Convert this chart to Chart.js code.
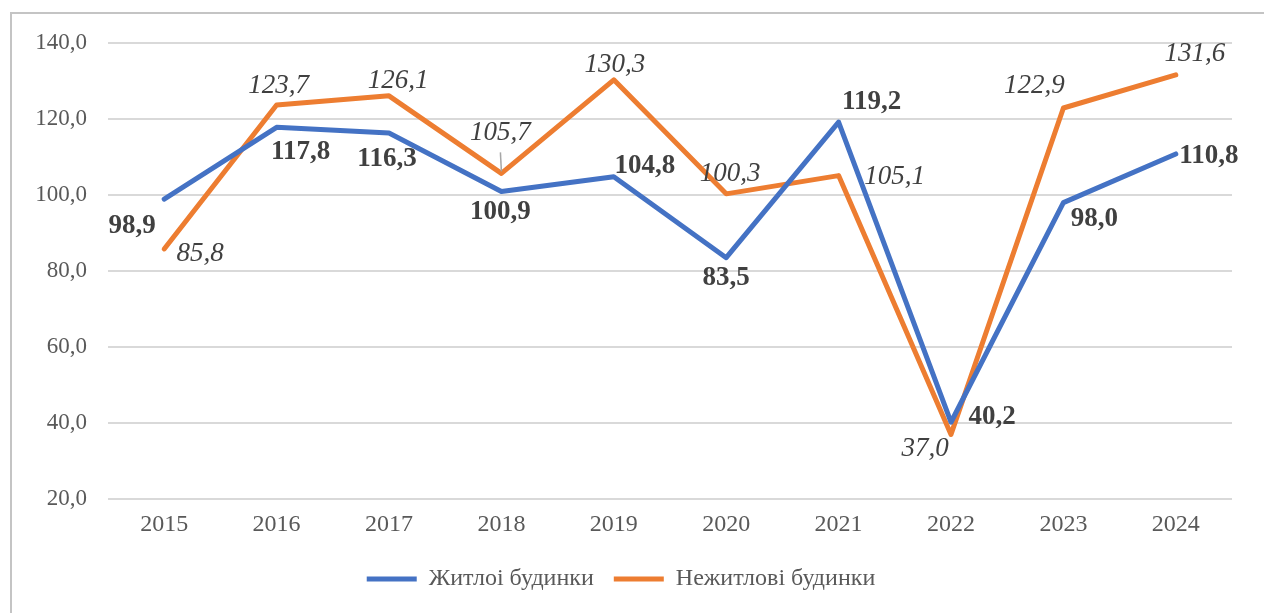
<!DOCTYPE html>
<html>
<head>
<meta charset="utf-8">
<script src="https://cdn.jsdelivr.net/npm/chart.js@4"></script>
<style>
  html, body { margin: 0; padding: 0; background: #fff; overflow: hidden; }
  #frame { position: absolute; left: 10px; top: 12px; width: 1300px; height: 700px;
           border: 2px solid #c4c4c4; box-sizing: border-box; }
  #wrap { position: absolute; left: 0; top: 0; width: 1264px; height: 613px; }
</style>
</head>
<body>
<div id="frame"></div>
<div id="wrap"><canvas id="chart"></canvas></div>
<script>
const years = ['2015', '2016', '2017', '2018', '2019', '2020', '2021', '2022', '2023', '2024'];
const residential = [98.9, 117.8, 116.3, 100.9, 104.8, 83.5, 119.2, 40.2, 98.0, 110.8];
const nonResidential = [85.8, 123.7, 126.1, 105.7, 130.3, 100.3, 105.1, 37.0, 122.9, 131.6];
const seriesNames = ['Житлоі будинки', 'Нежитлові будинки'];
const yTicks = [20, 40, 60, 80, 100, 120, 140];

// label placement relative to each point (layout only)
const labelShift = [
   [[-32, 27], [24, 25], [-2, 26], [-1, 20], [31, -11], [0, 20], [33, -20], [41, -5], [31, 16], [33, 2]],
   [[36, 5], [2, -19], [9, -15], [-1, -40], [1, -15], [4, -20], [56, 1], [-26, 15], [-29, -22], [19, -21]]
];
const labelFont = ['bold 27px "Liberation Serif", serif', 'italic 27px "Liberation Serif", serif'];

const fmt = v => v.toFixed(1).replace('.', ',');

const pointLabels = {
   id: 'pointLabels',
   afterDatasetsDraw(chart) {
      const ctx = chart.ctx;
      ctx.save();
      chart.data.datasets.forEach((ds, d) => {
         const meta = chart.getDatasetMeta(d);
         meta.data.forEach((pt, i) => {
            const [dx, dy] = labelShift[d][i];
            const x = pt.x + dx, y = pt.y + dy;
            if (Math.abs(dy) > 30) {
               ctx.strokeStyle = '#a6a6a6';
               ctx.lineWidth = 1.5;
               ctx.beginPath();
               ctx.moveTo(x, y + 19);
               ctx.lineTo(pt.x, pt.y - 2);
               ctx.stroke();
            }
            ctx.font = labelFont[d];
            ctx.fillStyle = '#404040';
            ctx.textAlign = 'center';
            ctx.textBaseline = 'middle';
            ctx.fillText(fmt(ds.data[i]), x, y);
         });
      });
      ctx.restore();
   }
};

new Chart(document.getElementById('chart'), {
   type: 'line',
   data: {
      labels: years,
      datasets: [{
         label: seriesNames[0],
         data: residential,
         borderColor: '#4472C4',
         backgroundColor: '#4472C4',
         borderWidth: 5,
         borderJoinStyle: 'round',
         borderCapStyle: 'round',
         pointRadius: 0,
         tension: 0
      }, {
         label: seriesNames[1],
         data: nonResidential,
         borderColor: '#ED7D31',
         backgroundColor: '#ED7D31',
         borderWidth: 5,
         borderJoinStyle: 'round',
         borderCapStyle: 'round',
         pointRadius: 0,
         tension: 0
      }]
   },
   options: {
      responsive: true,
      maintainAspectRatio: false,
      animation: false,
      layout: { padding: { left: 10, right: 32, top: 43, bottom: 12 } },
      scales: {
         x: {
            offset: true,
            grid: { display: false },
            border: { display: false },
            ticks: { color: '#595959', padding: 3, font: { family: '"Liberation Serif", serif', size: 24 } },
            afterFit: s => { s.height = 48; }
         },
         y: {
            min: 20,
            max: 140,
            afterBuildTicks: s => { s.ticks = yTicks.map(v => ({ value: v })); },
            grid: { color: '#d9d9d9', lineWidth: 2, drawTicks: false },
            border: { display: false },
            ticks: {
               color: '#595959',
               padding: 21,
               font: { family: '"Liberation Serif", serif', size: 23 },
               callback: v => fmt(v)
            },
            afterFit: s => { s.width = 98; }
         }
      },
      plugins: {
         legend: {
            position: 'bottom',
            labels: {
               usePointStyle: true,
               pointStyle: 'line',
               pointStyleWidth: 50,
               padding: 20,
               color: '#595959',
               font: { family: '"Liberation Serif", serif', size: 24 }
            }
         },
         tooltip: { enabled: false }
      }
   },
   plugins: [pointLabels]
});
</script>
</body>
</html>
